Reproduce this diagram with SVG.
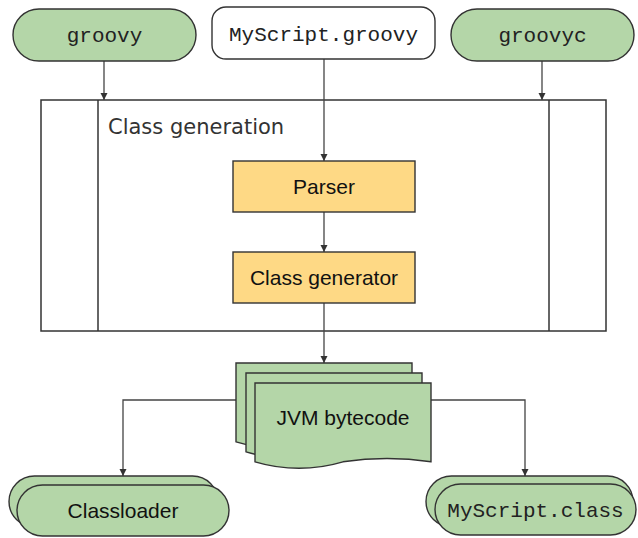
<svg xmlns="http://www.w3.org/2000/svg" width="638" height="538" viewBox="0 0 638 538">
<defs>
<style>
.pill{fill:#b4d6a8;stroke:#333;stroke-width:1.4}
.box{fill:#fed985;stroke:#333;stroke-width:1.4}
.plain{fill:#fff;stroke:#333;stroke-width:1.4}
.frame{fill:#fff;stroke:#333;stroke-width:1.5}
.conn{fill:none;stroke:#444;stroke-width:1.3}
.mono{font-family:"Liberation Mono","Courier New",monospace;font-size:21px;fill:#222;text-anchor:middle}
.sans{font-family:"Liberation Sans",Arial,sans-serif;font-size:21px;fill:#111;text-anchor:middle}
.title{font-family:"DejaVu Sans",Verdana,sans-serif;font-size:21px;fill:#333}
</style>
<marker id="arr" viewBox="0 0 10 10" refX="10" refY="5" markerWidth="7" markerHeight="8" markerUnits="userSpaceOnUse" orient="auto">
<path d="M0,0 L10,5 L0,10 Z" fill="#333"/>
</marker>
<path id="doc" d="M0,0 H176 V78.8 Q132,72.3 88,78.8 Q44,91.8 0,78.8 Z"/>
</defs>

<g id="class-generation">
<rect class="frame" x="41" y="100" width="565" height="231"/>
<line x1="98" y1="100" x2="98" y2="331" stroke="#333" stroke-width="1.5"/>
<line x1="549" y1="100" x2="549" y2="331" stroke="#333" stroke-width="1.5"/>
<text class="title" x="108" y="134">Class generation</text>
</g>

<g id="connectors">
<line class="conn" x1="104" y1="61" x2="104" y2="100" marker-end="url(#arr)"/>
<line class="conn" x1="542" y1="61" x2="542" y2="100" marker-end="url(#arr)"/>
<line class="conn" x1="324" y1="59" x2="324" y2="161" marker-end="url(#arr)"/>
<line class="conn" x1="324" y1="212" x2="324" y2="252" marker-end="url(#arr)"/>
<line class="conn" x1="324" y1="303" x2="324" y2="363" marker-end="url(#arr)"/>
<polyline class="conn" points="236,400 123,400 123,476" marker-end="url(#arr)"/>
<polyline class="conn" points="431,400 525,400 525,476" marker-end="url(#arr)"/>
</g>

<g id="groovy">
<rect class="pill" x="13" y="9" width="183" height="52" rx="26"/>
<text class="mono" x="104.5" y="42">groovy</text>
</g>

<g id="myscript-groovy">
<rect class="plain" x="212" y="7" width="223" height="52" rx="14"/>
<text class="mono" x="323.5" y="41">MyScript.groovy</text>
</g>

<g id="groovyc">
<rect class="pill" x="451" y="9" width="183" height="52" rx="26"/>
<text class="mono" x="542.5" y="42">groovyc</text>
</g>

<g id="parser">
<rect class="box" x="233" y="161" width="182" height="51"/>
<text class="sans" x="324" y="194">Parser</text>
</g>

<g id="class-generator">
<rect class="box" x="233" y="252" width="182" height="51"/>
<text class="sans" x="324" y="285">Class generator</text>
</g>

<g id="jvm-bytecode">
<use href="#doc" x="236" y="363" class="pill"/>
<use href="#doc" x="246" y="373" class="pill"/>
<use href="#doc" x="255" y="383" class="pill"/>
<text class="sans" x="343" y="425">JVM bytecode</text>
</g>

<g id="classloader">
<rect class="pill" x="9" y="476" width="209" height="51" rx="25.5"/>
<rect class="pill" x="17" y="485" width="212" height="51" rx="25.5"/>
<text class="sans" x="123" y="518">Classloader</text>
</g>

<g id="myscript-class">
<rect class="pill" x="426" y="476" width="207" height="51" rx="25.5"/>
<rect class="pill" x="435" y="484" width="201" height="51" rx="25.5"/>
<text class="mono" x="535.5" y="517">MyScript.class</text>
</g>
</svg>
